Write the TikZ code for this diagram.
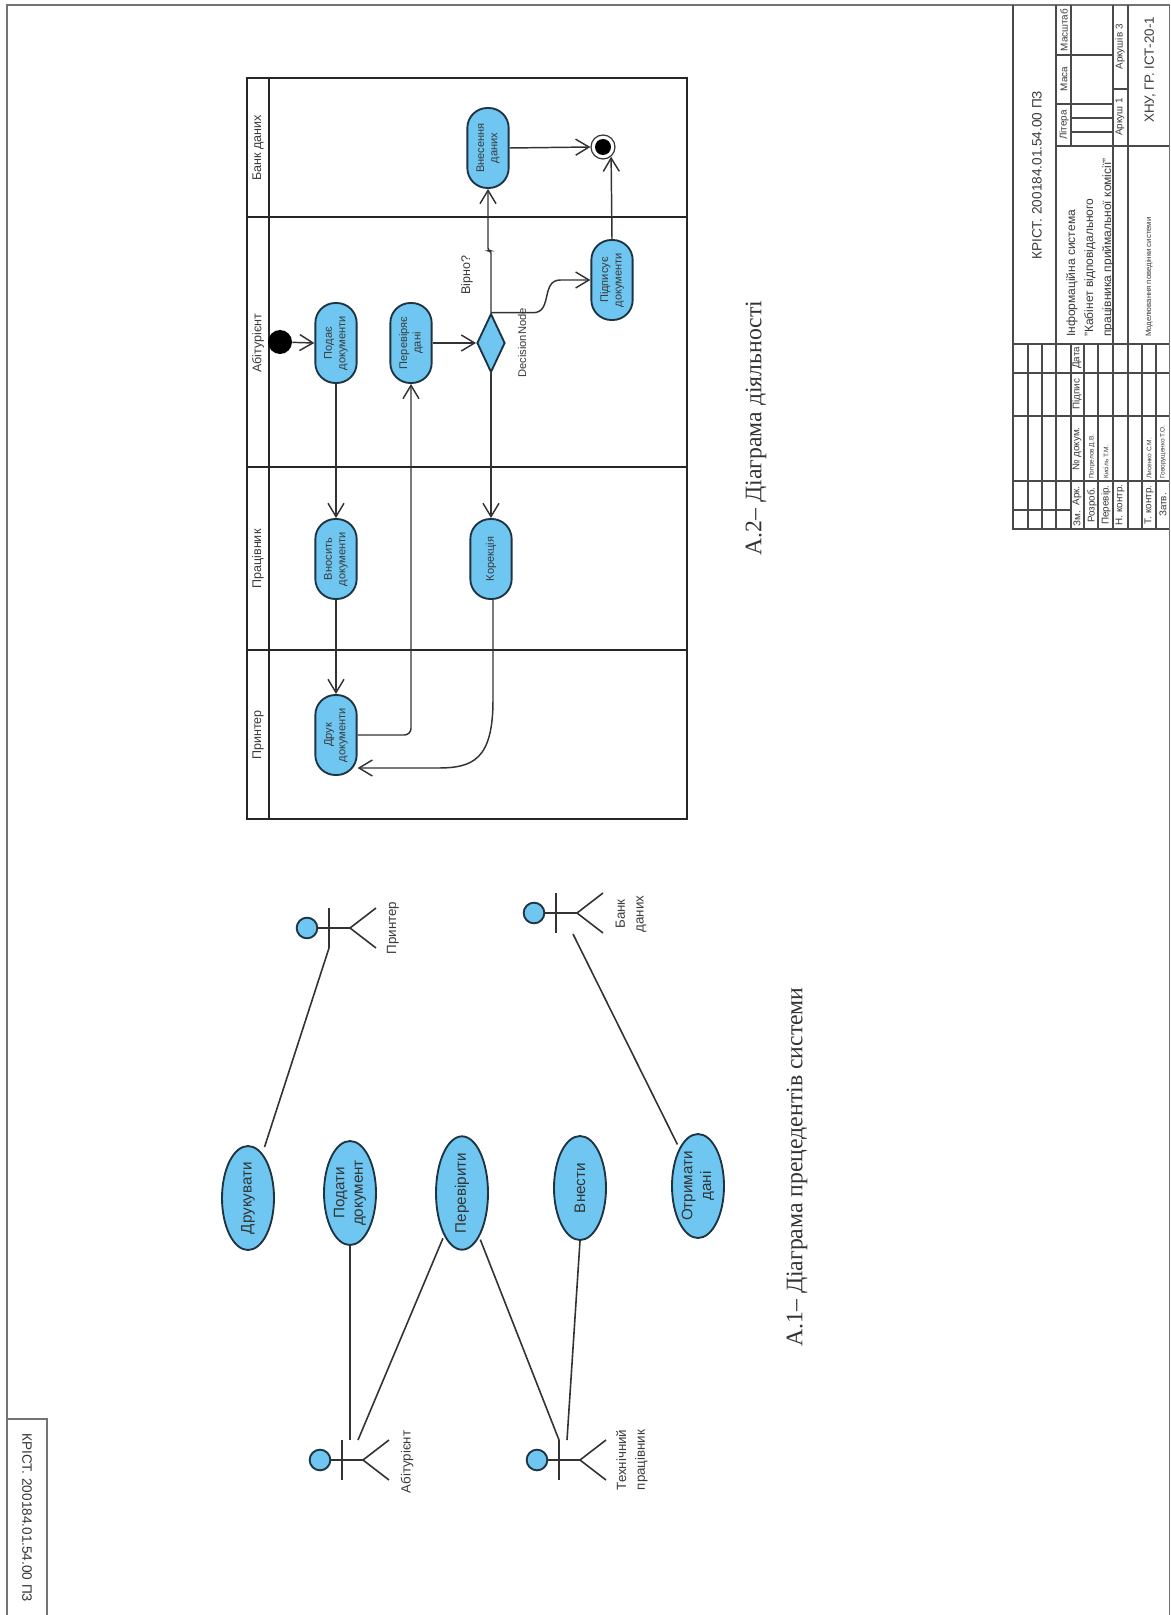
\documentclass[tikz,border=0pt]{standalone}
\usepackage{fontspec}
\setmainfont{Liberation Sans}
\newfontfamily\titlefont{Liberation Serif}
\usetikzlibrary{shapes.geometric,arrows.meta,calc}
\definecolor{ufill}{HTML}{6EC6F1}
\definecolor{uline}{HTML}{1F3442}
\definecolor{ink}{HTML}{333333}
\definecolor{gridc}{HTML}{4A4A4A}
\definecolor{txt}{HTML}{3A3A3A}
\tikzset{
  activity/.style={rectangle,rounded corners=15pt,draw=uline,fill=ufill,line width=1.4pt,minimum width=60pt,minimum height=31pt,inner sep=0pt,rotate=90,align=center,text=txt,font=\fontsize{8.3}{10}\selectfont},
  usecase/.style={ellipse,draw=uline,fill=ufill,line width=1.4pt,minimum width=78pt,minimum height=39pt,inner sep=0pt,rotate=90,align=center,text=ink,font=\fontsize{11.4}{14}\selectfont},
  decision/.style={diamond,draw=uline,fill=ufill,line width=1.4pt,minimum width=21pt,minimum height=44pt,inner sep=0pt,shape aspect=0.48},
  flow/.style={draw=ink,line width=1.1pt,-{Straight Barb[length=10pt,width=12pt,line width=1.1pt]}},
  assoc/.style={draw=ink,line width=1.2pt},
  lane/.style={draw=black!85,line width=1.5pt},
  frameline/.style={draw=black!55,line width=1.1pt},
  gridl/.style={draw=gridc,line width=1pt},
  vtext/.style={rotate=90,inner sep=0pt,text=txt},
  lanelabel/.style={vtext,font=\fontsize{9.4}{11}\selectfont},
  actorlabel/.style={vtext,align=center,font=\fontsize{10}{14}\selectfont},
  captext/.style={vtext,text=ink,font=\titlefont\fontsize{17.8}{20}\selectfont},
  headnode/.style={circle,draw=uline,fill=ufill,line width=1.4pt,minimum size=15.5pt,inner sep=0pt},
}
\newcommand{\actorfig}[3]{%
  \node[headnode] (#1) at (#2,#3) {};
  \coordinate (#1hip) at (#2+43,#3);
  \draw[assoc] (#1) -- (#1hip);
  \draw[assoc] (#2+22,#3-20) -- (#2+22,#3+20);
  \draw[assoc] (#2+69,#3-20) -- (#1hip) -- (#2+69,#3+20);
}
\begin{document}
\begin{tikzpicture}[x=0.75pt,y=-0.75pt]
\useasboundingbox (0,0) rectangle (1170,1615);
\fill[white] (0,0) rectangle (1170,1615);
% sheet frame
\draw[frameline] (7,1615) -- (7,5) -- (1169.4,5) -- (1169.4,1615);
\draw[frameline] (7,1419) -- (47,1419) -- (47,1615);
\node[rotate=-90,inner sep=0pt,text=ink,font=\fontsize{10.2}{12}\selectfont] (sideid) at (27,1518) {КРІСТ. 200184.01.54.00 ПЗ};

% swimlanes
\draw[lane] (247,78) rectangle (687,819);
\draw[lane] (269,78) -- (269,819);
\draw[lane] (247,217) -- (687,217);
\draw[lane] (247,467) -- (687,467);
\draw[lane] (247,650) -- (687,650);
\node[lanelabel] (l1) at (258,148) {Банк даних};
\node[lanelabel] (l2) at (258,343) {Абітурієнт};
\node[lanelabel] (l3) at (258,559) {Працівник};
\node[lanelabel] (l4) at (258,735) {Принтер};

% activity nodes
\node[circle,fill=black,minimum size=18pt,inner sep=0pt] (init) at (280,342) {};
\node[activity] (podae) at (336,343) {Подає\\документи};
\node[activity] (perev) at (411,343) {Перевіряє\\дані};
\node[decision] (dec) at (491,343) {};
\node[activity] (vnes) at (488,148) {Внесення\\даних};
\node[activity] (pidp) at (612,280) {Підписує\\документи};
\node[activity] (vnos) at (336,559) {Вносить\\документи};
\node[activity] (kor) at (491,559) {Корекція};
\node[activity] (druk) at (336,735) {Друк\\документи};
\node[circle,draw=ink,fill=white,line width=0.9pt,minimum size=18pt,inner sep=0pt] (final) at (603,147) {};
\node[circle,fill=black,minimum size=12pt,inner sep=0pt] (finald) at (603,147) {};
\node[vtext,font=\fontsize{9.4}{11}\selectfont] (q) at (467,275) {Вірно?};
\node[vtext,font=\fontsize{8.4}{10}\selectfont] (dn) at (522,343) {DecisionNode};

% flows
\draw[flow] (init) -- (podae.north);
\draw[flow] (podae.west) -- (vnos.east);
\draw[flow] (vnos.west) -- (druk.east);
\draw[flow,rounded corners=5pt] (druk.south) -| (perev.west);
\draw[flow] (perev.south) -- (dec.west);
\draw[flow] (dec.south) -- (kor.east);
\draw[flow,rounded corners=2pt] (dec.north) -- ($(dec.north)+(0,-62)$) -- ($(vnes.west)+(0,62)$) -- (vnes.west);
\draw[flow] (dec.north) -- ($(dec.north)+(42,0)$) .. controls ($(dec.north)+(62,0)$) and ($(pidp.north)+(-50,0)$) .. ($(pidp.north)+(-30,0)$) -- (pidp.north);
\draw[flow] (vnes.south) -- (final.west);
\draw[flow] (pidp.east) -- (final.-50);
\draw[flow] ($(kor.west)+(2,0)$) -- ($(kor.west)+(2,100)$) .. controls ($(kor.west)+(2,160)$) and ($(druk.south)+(115,33)$) .. ($(druk.south)+(80,33)$) -- ($(druk.south)+(0,33)$);

% use cases
\node[usecase] (ucdruk) at (248,1198) {Друкувати};
\node[usecase] (ucpod) at (350,1193) {Подати\\документ};
\node[usecase] (ucper) at (462,1193) {Перевірити};
\node[usecase] (ucvn) at (580,1188) {Внести};
\node[usecase] (ucot) at (698,1186) {Отримати\\дані};

% actors
\actorfig{aprint}{307}{928}
\actorfig{abank}{534}{913}
\actorfig{aabit}{320}{1460}
\actorfig{atech}{537}{1460}
\node[actorlabel] (lprint) at (393,928) {Принтер};
\node[actorlabel] (lbank) at (631,914) {Банк\\даних};
\node[actorlabel] (labit) at (407,1462) {Абітурієнт};
\node[actorlabel] (ltech) at (632,1460) {Технічний\\працівник};

% associations
\draw[assoc,shorten <=5pt] (ucdruk) -- ($(aprint)+(22,20)$);
\draw[assoc] (ucpod.west) -- ($(aabit)+(30,-20)$);
\draw[assoc,shorten <=2pt] (ucper) -- ($(aabit)+(38,-20)$);
\draw[assoc,shorten <=2pt] (ucper) -- ($(atech)+(22,-20)$);
\draw[assoc] (ucvn.west) -- ($(atech)+(30,-20)$);
\draw[assoc,shorten <=3pt] (ucot) -- ($(abank)+(39,21)$);

% captions
\node[captext] (c1) at (797,1167) {А.1– Діаграма прецедентів системи};
\node[captext] (c2) at (756,428) {А.2– Діаграма діяльності};

% title block grid
\draw[gridl] (1013,5) -- (1013,529) -- (1169.4,529);
\foreach \yy in {344,373,416,481} \draw[gridl] (1013,\yy) -- (1169.4,\yy);
\draw[gridl] (1013,510) -- (1071,510);
\foreach \xx in {1028,1042,1071,1084,1098,1142,1156} \draw[gridl] (\xx,344) -- (\xx,529);
\foreach \xx in {1056,1113,1128} \draw[gridl] (\xx,5) -- (\xx,529);
\draw[gridl] (1056,146) -- (1169.4,146);
\draw[gridl] (1071,5) -- (1071,146);
\draw[gridl] (1056,55) -- (1113,55);
\draw[gridl] (1056,104) -- (1113,104);
\draw[gridl] (1071,118) -- (1113,118);
\draw[gridl] (1071,132) -- (1113,132);
\draw[gridl] (1113,89) -- (1128,89);

% title block texts
\tikzset{tb/.style={vtext,font=\fontsize{7.4}{9}\selectfont},tbs/.style={vtext,anchor=west,font=\fontsize{4.9}{6}\selectfont}}
\node[vtext,font=\fontsize{10.2}{12}\selectfont] (t1) at (1037,175) {КРІСТ. 200184.01.54.00 ПЗ};
\node[tb] (t2) at (1064,30) {Масштаб};
\node[tb] (t3) at (1064,79) {Маса};
\node[tb] (t4) at (1064,125) {Літера};
\node[tb] (t5) at (1120,117) {Аркуш 1};
\node[tb] (t6) at (1120,47) {Аркушів 3};
\node[vtext,font=\fontsize{10}{12}\selectfont] (t7) at (1150,70) {ХНУ, ГР. ІСТ-20-1};
\node[vtext,anchor=west,font=\fontsize{9}{11}\selectfont] (t8) at (1072,337) {Інформаційна система};
\node[vtext,anchor=west,font=\fontsize{9}{11}\selectfont] (t9) at (1090,337) {"Кабінет відповідального};
\node[vtext,anchor=west,font=\fontsize{9}{11}\selectfont] (t10) at (1108,337) {працівника приймальної комісії"};
\node[vtext,anchor=west,font=\fontsize{5.8}{7}\selectfont] (t11) at (1149,337) {Моделювання поведінки системи};
\node[tb] (h1) at (1077,519) {Зм.};
\node[tb] (h2) at (1077,496) {Арк.};
\node[tb] (h3) at (1077,449) {№ докум.};
\node[tb] (h4) at (1077,394) {Підпис};
\node[tb] (h5) at (1077,358) {Дата};
\node[tb] (r1) at (1092,505) {Розроб.};
\node[tb] (r2) at (1106,505) {Перевір.};
\node[tb] (r3) at (1120,505) {Н. контр.};
\node[tb] (r4) at (1149,505) {Т. контр.};
\node[tb] (r5) at (1163,505) {Затв.};
\node[tbs] (n1) at (1092,479) {Попрелов Д.В.};
\node[tbs] (n2) at (1106,479) {Кисіль Т.М.};
\node[tbs] (n3) at (1149,479) {Лисенко С.М.};
\node[tbs] (n4) at (1163,479) {Говорущенко Т.О.};
\end{tikzpicture}
\end{document}
